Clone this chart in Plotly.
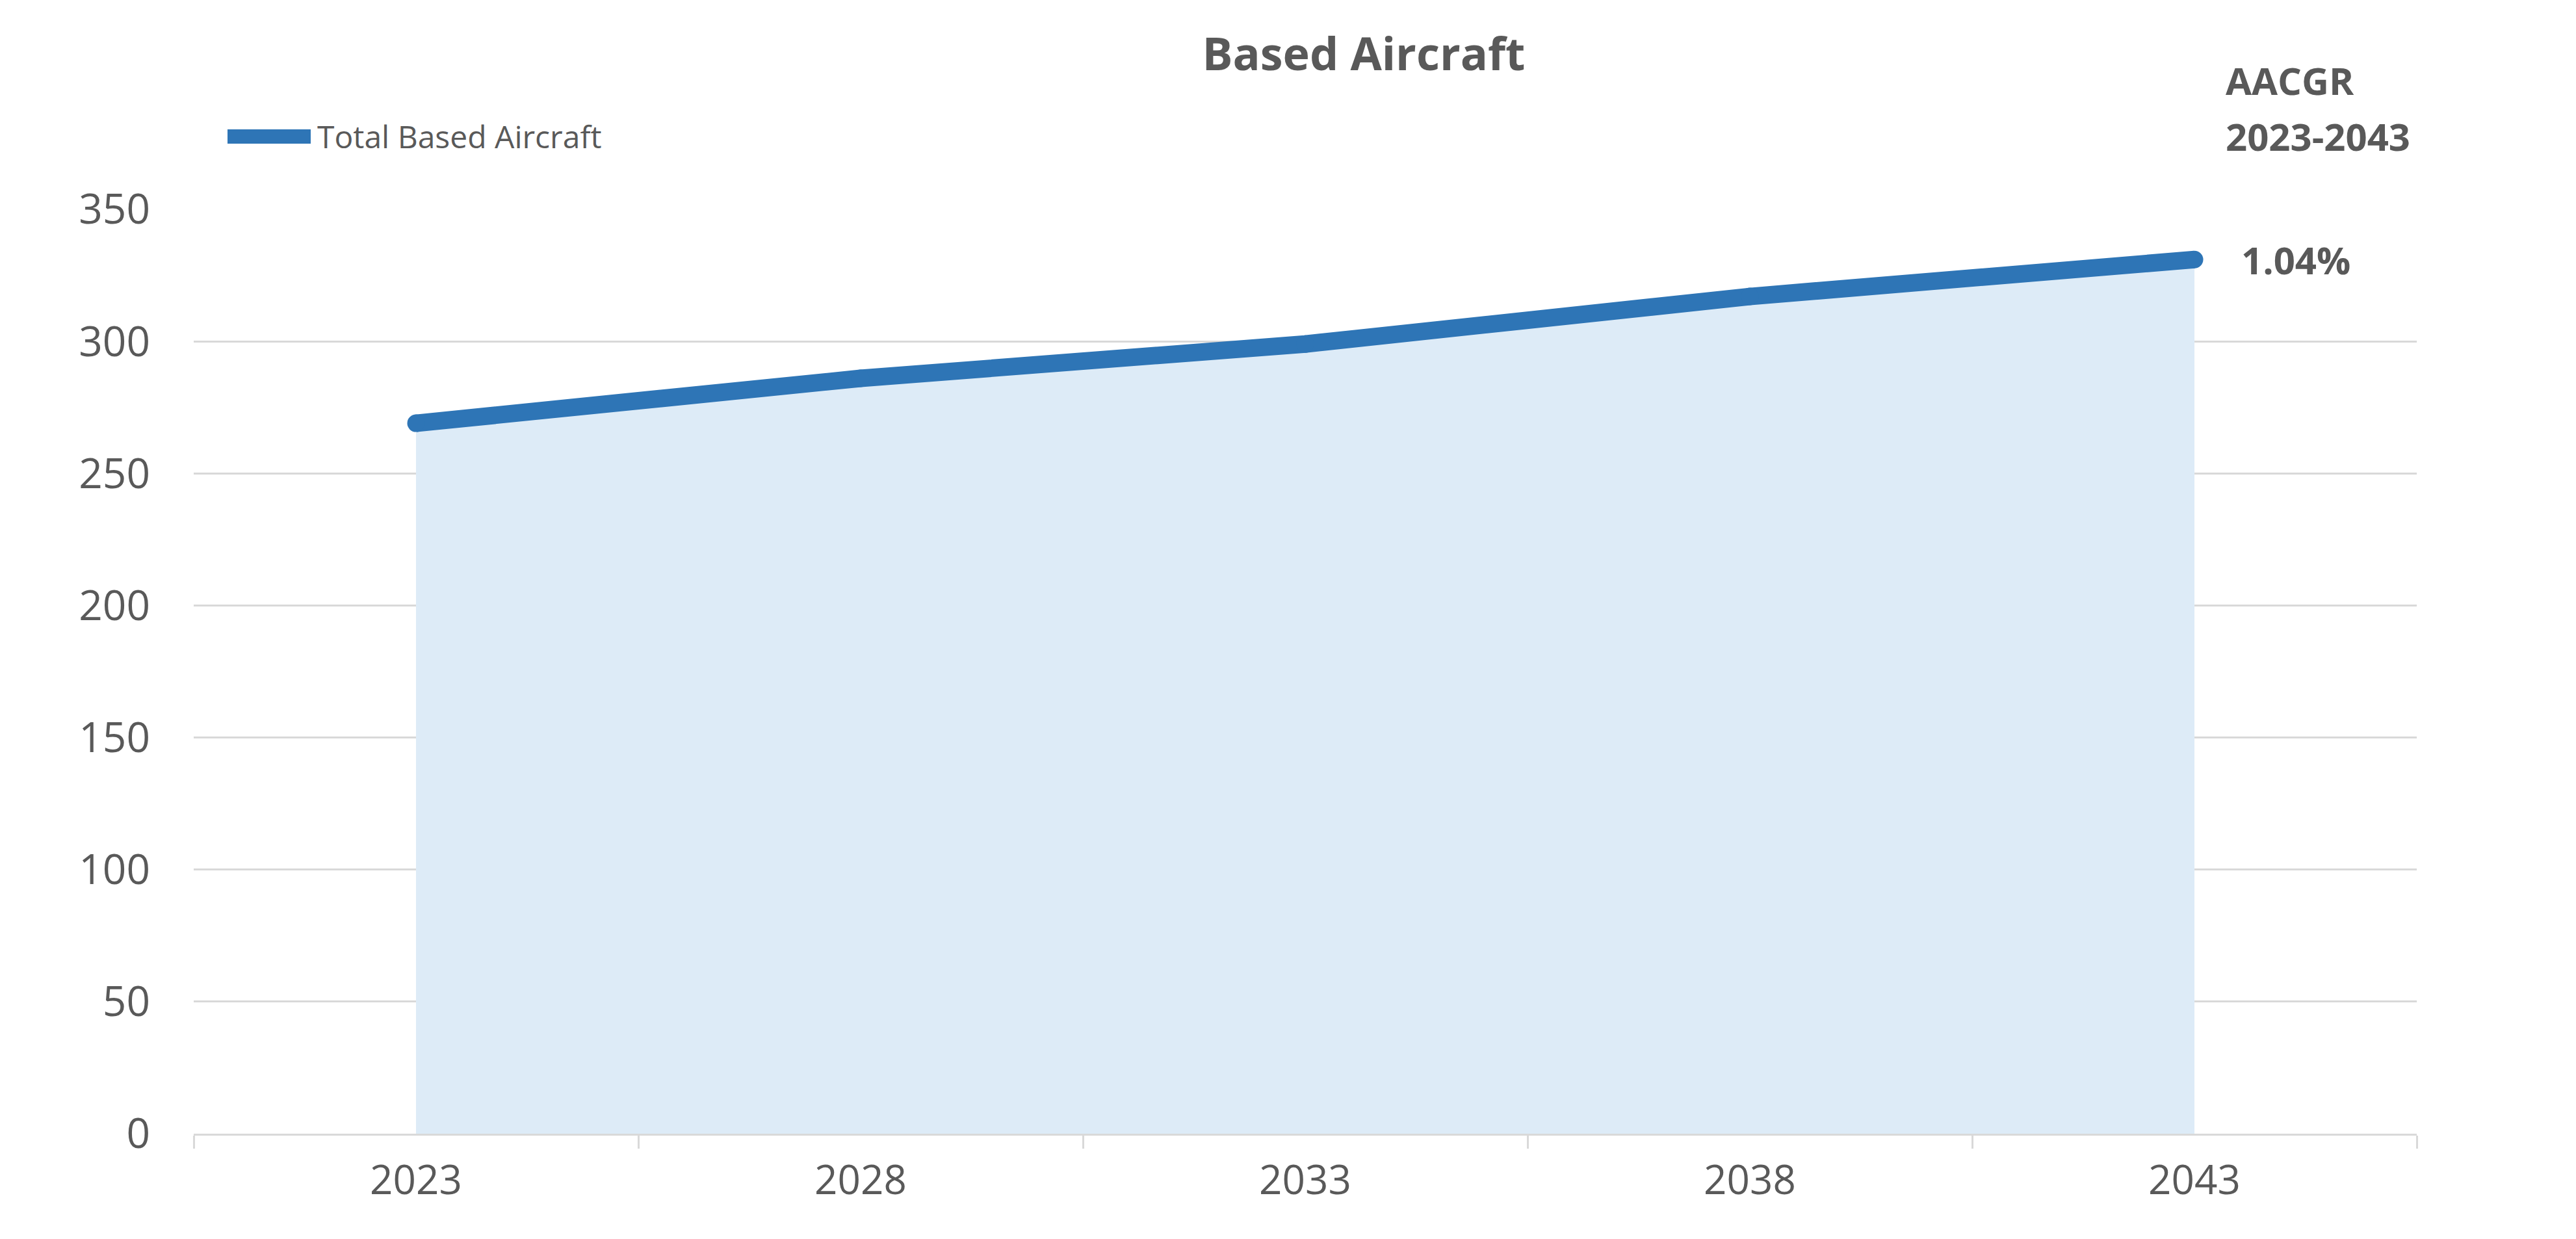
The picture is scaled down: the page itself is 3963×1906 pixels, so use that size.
import plotly.graph_objects as go

# ---- data ----
years = ["2023", "2028", "2033", "2038", "2043"]
based_aircraft = [269, 286, 299, 317, 331]
series_name = "Total Based Aircraft"
chart_title = "Based Aircraft"
aacgr_header = ["AACGR", "2023-2043"]
aacgr_value = "1.04%"
y_ticks = [0, 50, 100, 150, 200, 250, 300, 350]

# ---- styles ----
W, H = 3963, 1906
ML, MR, MT, MB = 298, 245, 322, 162
LINE_COLOR = "#2E75B6"
FILL_COLOR = "#DDEBF7"
GRID_COLOR = "#D9D9D9"
TEXT_COLOR = "#595959"
FONT = "Open Sans, Lato, DejaVu Sans, sans-serif"

plot_w = W - ML - MR
plot_h = H - MT - MB

def px_to_paper_x(px):
    return (px - ML) / plot_w

def px_to_paper_y(py):
    return (H - MB - py) / plot_h

fig = go.Figure()

# light-blue area under the line
fig.add_trace(go.Scatter(
    x=years, y=based_aircraft, mode="lines", fill="tozeroy",
    fillcolor=FILL_COLOR, line=dict(width=0, color=FILL_COLOR),
    showlegend=False, hoverinfo="skip",
))

# thick line (markers at points emulate rounded caps)
fig.add_trace(go.Scatter(
    x=years, y=based_aircraft, mode="lines+markers", name=series_name,
    line=dict(color=LINE_COLOR, width=27),
    marker=dict(color=LINE_COLOR, size=27, line=dict(width=0)),
    showlegend=False,
))

annotations = []
# legend (drawn manually to match long thick swatch)
leg_y = px_to_paper_y(210)
annotations.append(dict(
    x=px_to_paper_x(486), y=leg_y, xref="paper", yref="paper",
    text=series_name, showarrow=False, xanchor="left", yanchor="middle",
    font=dict(family=FONT, size=48, color=TEXT_COLOR),
))
# AACGR header
for txt, py in zip(aacgr_header, [124, 210]):
    annotations.append(dict(
        x=px_to_paper_x(3422), y=px_to_paper_y(py), xref="paper", yref="paper",
        text=f"<b>{txt}</b>", showarrow=False, xanchor="left", yanchor="middle",
        font=dict(family=FONT, size=58, color=TEXT_COLOR),
    ))
# AACGR value next to last point
annotations.append(dict(
    x=len(years) - 1, y=based_aircraft[-1], xref="x", yref="y",
    text=f"<b>{aacgr_value}</b>", showarrow=False, xanchor="left", yanchor="middle",
    xshift=70, font=dict(family=FONT, size=58, color=TEXT_COLOR),
))

shapes = [dict(
    type="line", xref="paper", yref="paper",
    x0=px_to_paper_x(350), x1=px_to_paper_x(478), y0=leg_y, y1=leg_y,
    line=dict(color=LINE_COLOR, width=22),
)]

fig.update_layout(
    width=W, height=H,
    margin=dict(l=ML, r=MR, t=MT, b=MB, autoexpand=False),
    paper_bgcolor="white", plot_bgcolor="white",
    title=dict(
        text=f"<b>{chart_title}</b>", x=2098 / W, xanchor="center",
        y=1 - 83 / H, yanchor="middle", yref="container",
        font=dict(family=FONT, size=70, color=TEXT_COLOR),
    ),
    font=dict(family=FONT, color=TEXT_COLOR),
    annotations=annotations,
    shapes=shapes,
    showlegend=False,
    xaxis=dict(
        type="category", range=[-0.5, len(years) - 0.5],
        showgrid=False, zeroline=False,
        showline=True, linecolor=GRID_COLOR, linewidth=3,
        ticks="outside", tickson="boundaries", ticklen=20, tickwidth=3,
        tickcolor=GRID_COLOR,
        tickfont=dict(family=FONT, size=62, color=TEXT_COLOR),
        ticklabelstandoff=16,
        fixedrange=True,
    ),
    yaxis=dict(
        range=[0, 350], tickmode="array", tickvals=y_ticks,
        showgrid=True, gridcolor=GRID_COLOR, gridwidth=3,
        zeroline=False, showline=False, ticks="",
        tickfont=dict(family=FONT, size=64, color=TEXT_COLOR),
        ticklabelstandoff=66,
        fixedrange=True,
    ),
)

fig.write_html("out.html")
